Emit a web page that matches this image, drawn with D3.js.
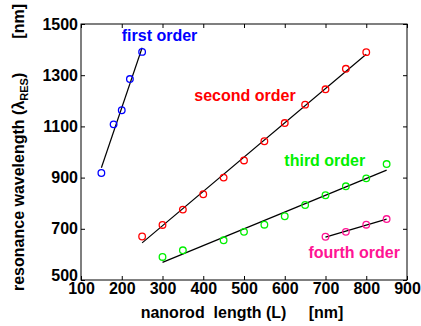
<!DOCTYPE html>
<html>
<head>
<meta charset="utf-8">
<script src="https://cdn.jsdelivr.net/npm/d3@7"></script>
<style>
  body { margin: 0; background: #fff; }
  svg { display: block; font-family: "Liberation Sans", Arial, sans-serif; }
  text { white-space: pre; }
</style>
</head>
<body>
<div id="chart"></div>
<script>
// data
const firstX = [150, 180, 200, 220, 250]
const firstY = [918, 1108, 1163, 1285, 1391]
const secondX = [250, 300, 350, 400, 450, 500, 550, 600, 650, 700, 750, 800]
const secondY = [670, 715, 775, 835, 900, 967, 1042, 1113, 1185, 1245, 1325, 1390]
const thirdX = [300, 350, 450, 500, 550, 600, 650, 700, 750, 800, 850]
const thirdY = [590, 616, 655, 688, 716, 749, 793, 831, 866, 897, 953]
const fourthX = [700, 750, 800, 850]
const fourthY = [669, 688, 716, 738]

const xTicks = [100, 200, 300, 400, 500, 600, 700, 800, 900]
const yTicks = [500, 700, 900, 1100, 1300, 1500]

const series = [
  { name: "first order", xs: firstX, ys: firstY, color: "#0000ff", label: [200, 1434] },
  { name: "second order", xs: secondX, ys: secondY, color: "#ff0000", label: [378, 1199] },
  { name: "third order", xs: thirdX, ys: thirdY, color: "#00f000", label: [599, 945] },
  { name: "fourth order", xs: fourthX, ys: fourthY, color: "#ff1493", label: [658, 586] }
]

const W = 421, H = 326
const margin = { top: 24, right: 14, bottom: 46, left: 81 }
const width = W - margin.left - margin.right
const height = H - margin.top - margin.bottom

const svg = d3.select("#chart").append("svg")
  .attr("width", W)
  .attr("height", H)

const g = svg.append("g")
  .attr("transform", `translate(${margin.left},${margin.top})`)

const x = d3.scaleLinear().domain([100, 900]).range([0, width])
const y = d3.scaleLinear().domain([500, 1500]).range([height, 0])

// least squares line through each series
function fit(xs, ys) {
  const mx = d3.mean(xs), my = d3.mean(ys)
  let sxy = 0, sxx = 0
  xs.forEach((v, i) => { sxy += (v - mx) * (ys[i] - my); sxx += (v - mx) * (v - mx) })
  const b = sxy / sxx
  const x0 = d3.min(xs), x1 = d3.max(xs)
  return [[x0, my + b * (x0 - mx)], [x1, my + b * (x1 - mx)]]
}

const fontStyle = sel => sel
  .attr("font-size", 16)
  .attr("font-weight", "bold")
  .attr("fill", "#000")
  .attr("font-family", "'Liberation Sans', Arial, sans-serif")

// axes, ticks pointing inward
const xAxis = g.append("g")
  .attr("transform", `translate(0,${height})`)
  .call(d3.axisBottom(x).tickValues(xTicks).tickFormat(d3.format("d"))
    .tickSizeInner(-4).tickSizeOuter(0).tickPadding(3))
const yAxis = g.append("g")
  .call(d3.axisLeft(y).tickValues(yTicks).tickFormat(d3.format("d"))
    .tickSizeInner(-4).tickSizeOuter(0).tickPadding(3))
g.append("g")
  .call(d3.axisTop(x).tickValues(xTicks).tickSizeInner(-4).tickSizeOuter(0).tickFormat(""))
g.append("g")
  .attr("transform", `translate(${width},0)`)
  .call(d3.axisRight(y).tickValues(yTicks).tickSizeInner(-4).tickSizeOuter(0).tickFormat(""))

g.selectAll(".domain").remove()
g.selectAll(".tick line").attr("stroke", "#000")
xAxis.selectAll("text").call(fontStyle)
yAxis.selectAll("text").call(fontStyle)
// lowest y label sits a little higher so it clears the x labels
yAxis.selectAll(".tick").filter(d => d === 500).select("text").attr("dy", "0.05em")

g.append("rect")
  .attr("width", width)
  .attr("height", height)
  .attr("fill", "none")
  .attr("stroke", "#000")
  .attr("stroke-width", 1)

const line = d3.line().x(d => x(d[0])).y(d => y(d[1]))

series.forEach(s => {
  g.append("path")
    .attr("d", line(fit(s.xs, s.ys)))
    .attr("stroke", "#000")
    .attr("stroke-width", 1.2)
    .attr("fill", "none")

  g.selectAll(null)
    .data(s.xs.map((v, i) => [v, s.ys[i]]))
    .enter().append("circle")
    .attr("cx", d => x(d[0]))
    .attr("cy", d => y(d[1]))
    .attr("r", 3.3)
    .attr("fill", "none")
    .attr("stroke", s.color)
    .attr("stroke-width", 1.3)

  g.append("text")
    .attr("x", x(s.label[0]))
    .attr("y", y(s.label[1]))
    .call(fontStyle)
    .attr("fill", s.color)
    .text(s.name)
})

// axis titles
svg.append("text")
  .attr("x", 242)
  .attr("y", 318)
  .attr("text-anchor", "middle")
  .call(fontStyle)
  .text("nanorod  length (L)     [nm]")

const yt = svg.append("text")
  .attr("transform", "translate(24,291) rotate(-90)")
  .call(fontStyle)
yt.append("tspan").text("resonance wavelength (λ")
yt.append("tspan").attr("font-size", 11).attr("dy", 4).text("RES")
yt.append("tspan").attr("dy", -4).text(")")

svg.append("text")
  .attr("transform", "translate(24,4) rotate(-90)")
  .attr("text-anchor", "end")
  .call(fontStyle)
  .text("[nm]")
</script>
</body>
</html>
